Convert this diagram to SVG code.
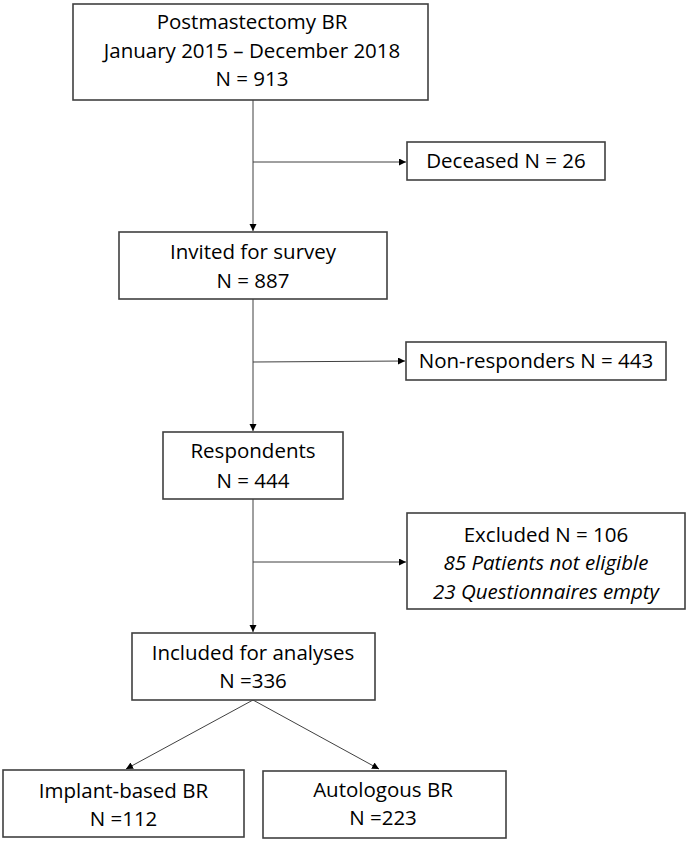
<svg xmlns="http://www.w3.org/2000/svg" width="688" height="843" viewBox="0 0 688 843">
<defs>
<marker id="arr" markerUnits="userSpaceOnUse" markerWidth="8" markerHeight="8" refX="7" refY="3.5" orient="auto">
<path d="M0,0 L7,3.5 L0,7 z" fill="#000"/>
</marker>
<style>
.box{fill:#fff;stroke:#404040;stroke-width:1.6}
.t{font-family:"Open Sans","Liberation Sans",sans-serif;font-size:20.5px;fill:#000;text-anchor:middle}
.i{font-style:italic}
.c{fill:none;stroke:#404040;stroke-width:1;marker-end:url(#arr)}
</style>
</defs>
<rect width="688" height="843" fill="#fff"/>
<g id="connectors">
<path class="c" d="M253,100 V231"/>
<path class="c" d="M253,162 H406"/>
<path class="c" d="M253,299 V431"/>
<path class="c" d="M253,362 L405,361"/>
<path class="c" d="M253,499 V632"/>
<path class="c" d="M253,562 H406"/>
<path class="c" d="M253,700 L126,769"/>
<path class="c" d="M253,700 L379,769"/>
</g>
<g id="n-postmastectomy">
<rect class="box" x="73" y="4" width="355" height="96"/>
<text class="t" x="252" y="29">Postmastectomy BR</text>
<text class="t" x="252" y="57.5">January 2015 – December 2018</text>
<text class="t" x="252" y="86">N = 913</text>
</g>
<g id="n-deceased">
<rect class="box" x="407" y="142" width="198" height="38"/>
<text class="t" x="506" y="168">Deceased N = 26</text>
</g>
<g id="n-invited">
<rect class="box" x="119" y="232" width="268" height="67"/>
<text class="t" x="253" y="259">Invited for survey</text>
<text class="t" x="253" y="288">N = 887</text>
</g>
<g id="n-nonresponders">
<rect class="box" x="406" y="342" width="260" height="38"/>
<text class="t" x="536" y="368">Non-responders N = 443</text>
</g>
<g id="n-respondents">
<rect class="box" x="163" y="432" width="180" height="67"/>
<text class="t" x="253" y="458">Respondents</text>
<text class="t" x="253" y="488">N = 444</text>
</g>
<g id="n-excluded">
<rect class="box" x="407" y="513" width="278" height="96"/>
<text class="t" x="546" y="542">Excluded N = 106</text>
<text class="t i" x="546" y="570">85 Patients not eligible</text>
<text class="t i" x="546" y="599">23 Questionnaires empty</text>
</g>
<g id="n-included">
<rect class="box" x="132" y="633" width="243" height="67"/>
<text class="t" x="253" y="660">Included for analyses</text>
<text class="t" x="253" y="688">N =336</text>
</g>
<g id="n-implant">
<rect class="box" x="3" y="770" width="241" height="67"/>
<text class="t" x="123.5" y="798">Implant-based BR</text>
<text class="t" x="123.5" y="826">N =112</text>
</g>
<g id="n-autologous">
<rect class="box" x="263" y="771" width="243" height="67"/>
<text class="t" x="383" y="797">Autologous BR</text>
<text class="t" x="383" y="825">N =223</text>
</g>
</svg>
